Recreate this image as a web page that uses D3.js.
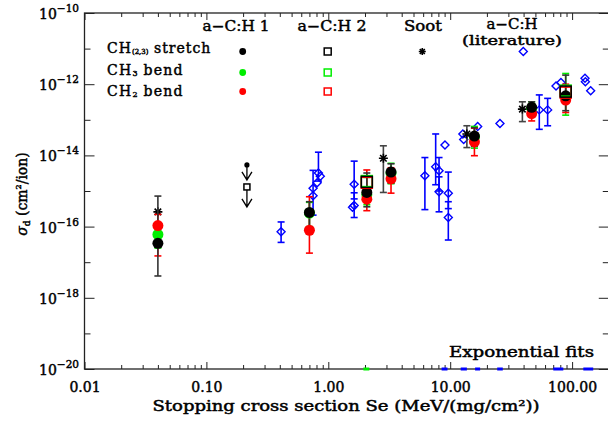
<!DOCTYPE html>
<html><head><meta charset="utf-8">
<script src="https://cdn.jsdelivr.net/npm/d3@7"></script>
<style>body{margin:0;background:#fff}svg{display:block}text{font-family:"DejaVu Serif",serif;font-weight:normal;fill:#000;stroke:#000;stroke-width:0.45px}</style>
</head><body><svg id="c" width="608" height="421"></svg>
<script>
// ---------- data ----------
const xTickValues = [0.01, 0.1, 1, 10, 100];
const xTickLabels = ["0.01", "0.10", "1.00", "10.00", "100.00"];
const yTickValues = [1e-10, 1e-12, 1e-14, 1e-16, 1e-18, 1e-20];
const yTickExponents = ["−10", "−12", "−14", "−16", "−18", "−20"];
const yMinorValues = [1e-11, 1e-13, 1e-15, 1e-17, 1e-19];

const bandNames = ["CH", "CH", "CH"];
const bandSubs = ["(2,3)", "3", "2"];
const bandSuffix = [" stretch", " bend", " bend"];
const bandColors = ["#000000", "#00ee00", "#ff0000"];
const groupNames = ["a−C:H 1", "a−C:H 2", "Soot", "a−C:H"];

// a-C:H 1 (filled circles)
const se1 = [0.040, 0.70, 2.07, 3.27, 15.8, 46.6, 88.6];
const stretch1   = [3.4e-17, 2.5e-16, 9.1e-16, 3.4e-15, 3.5e-14, 2.24e-13, 4.7e-13];
const stretch1Lo = [4.1e-18, 8.9e-17, 3.6e-16, 1.66e-15, 1.8e-14, 1.4e-13, 1.8e-13];
const stretch1Hi = [7.2e-16, 5.0e-16, 3.2e-15, 5.8e-15, 6.0e-14, 3.2e-13, 1.8e-12];
const ch3bend1   = [6.0e-17, 2.4e-16, 7.9e-16, 3.2e-15, 3.3e-14, 2.1e-13, 4.4e-13];
const ch3bend1Lo = [2.5e-17, 1.0e-16, 4.1e-16, 1.6e-15, 1.6e-14, 1.26e-13, 1.35e-13];
const ch3bend1Hi = [1.26e-16, 4.8e-16, 2.4e-15, 6.0e-15, 6.5e-14, 3.2e-13, 2.0e-12];
const ch2bend1   = [1.07e-16, 7.9e-17, 5.9e-16, 2.2e-15, 2.4e-14, 1.5e-13, 3.6e-13];
const ch2bend1Lo = [1.5e-17, 1.8e-17, 2.8e-16, 8.7e-16, 9.8e-15, 9.3e-14, 1.6e-13];
const ch2bend1Hi = [2.2e-16, 6.9e-16, 3.9e-15, 4.5e-15, 5.8e-14, 2.8e-13, 1.0e-12];

// a-C:H 2 (open squares)
const se2 = [2.07, 88.6];
const stretch2 = [1.8e-15, 6.2e-13];
const ch3bend2 = [1.9e-15, 6.6e-13];
const ch2bend2 = [1.7e-15, 5.8e-13];

// upper limits (a-C:H 1 dot, a-C:H 2 square)
const seLimit = [0.215];
const limit1 = [5.4e-15];
const limit2 = [1.07e-15];

// Soot (asterisks)
const seSoot = [0.040, 2.83, 13.7, 39.1];
const soot   = [2.6e-16, 8.3e-15, 4.0e-14, 2.0e-13];
const sootLo = [null, 9.1e-16, 1.66e-14, 8.9e-14];
const sootHi = [null, 1.86e-14, 6.8e-14, 3.2e-13];

// a-C:H literature (open diamonds)
const seLit = [0.41, 0.83, 0.81, 0.75, 0.75, 0.86, 1.63, 1.63, 1.58, 6.2, 7.6, 8.1, 8.1, 9.65, 9.65, 9.06, 12.7, 12.9, 16.8, 25.6, 53.8, 63, 73.8, 81, 127.6, 128.5, 142];
const lit   = [7.2e-17, 3.2e-15, 1.7e-15, 1.2e-15, 7.4e-16, 2.6e-15, 1.55e-15, 3.9e-16, 3.5e-16, 2.7e-15, 4.8e-15, 3.7e-15, 9.5e-16, 8.7e-16, 1.8e-16, 1.95e-14, 4.0e-14, 2.8e-14, 6.5e-14, 7.9e-14, 1.9e-13, 1.9e-13, 8.9e-13, 1.12e-12, 1.48e-12, 1.17e-12, 6.5e-13];
const litLo = [3.6e-17, 1.9e-15, null, 2.1e-16, null, null, 6.0e-16, 1.8e-16, null, 3.0e-16, 1.5e-15, 1.0e-15, 2.6e-16, 3.2e-16, 4.2e-17, null, null, null, null, null, 5.4e-14, 6.8e-14, null, null, null, null, null];
const litHi = [1.35e-16, 1.23e-14, null, 3.8e-15, null, null, 6.9e-15, 8.9e-16, null, 8.7e-15, 4.0e-14, 8.7e-15, 2.5e-15, 3.4e-15, 5.0e-16, null, null, null, null, null, 5.0e-13, 4.0e-13, null, null, null, null, null];

// exponential fits (Se ranges shown on the floor of the plot)
const fitLo = [1.94, 8.5, 12.2, 16.0, 24.3, 70.1, 123.6];
const fitHi = [2.17, 9.5, 13.7, 17.6, 27.0, 84.7, 149];
const fitColor = ["#00ee00", "#0000ff", "#0000ff", "#0000ff", "#0000ff", "#0000ff", "#0000ff"];

// ---------- drawing ----------
const svg = d3.select("#c");
const L = 84.5, T = 13, B = 369;
const x = d3.scaleLog().domain([0.01, 200]).range([L, L + Math.log10(20000) * 121.9]);
const y = d3.scaleLog().domain([1e-20, 1e-10]).range([B, T]);
const R = x.range()[1];
const axisCol = "#222";

const xMinor = [];
for (let e = -2; e <= 2; e++) for (let m = 2; m <= 9; m++) { const v = m * Math.pow(10, e); if (v < 200) xMinor.push(v); }

function styleAxis(g) { g.select(".domain").remove(); g.selectAll("line").attr("stroke", axisCol).attr("stroke-width", 1); }

svg.append("g").attr("transform", `translate(0,${B})`).call(d3.axisBottom(x).tickValues(xTickValues).tickSize(-7).tickSizeOuter(0).tickFormat((d, i) => xTickLabels[i])).call(styleAxis)
  .selectAll("text").attr("y", 13).attr("font-size", 14).attr("fill", "#000").style("font-family", "DejaVu Serif");
svg.append("g").attr("transform", `translate(0,${B})`).call(d3.axisBottom(x).tickValues(xMinor).tickSize(-4).tickSizeOuter(0).tickFormat("")).call(styleAxis);
svg.append("g").attr("transform", `translate(0,${T})`).call(d3.axisTop(x).tickValues(xTickValues).tickSize(-7).tickSizeOuter(0).tickFormat("")).call(styleAxis);
svg.append("g").attr("transform", `translate(0,${T})`).call(d3.axisTop(x).tickValues(xMinor).tickSize(-4).tickSizeOuter(0).tickFormat("")).call(styleAxis);

svg.append("g").attr("transform", `translate(${L},0)`).call(d3.axisLeft(y).tickValues(yTickValues).tickSize(-10).tickSizeOuter(0).tickFormat("")).call(styleAxis);
svg.append("g").attr("transform", `translate(${L},0)`).call(d3.axisLeft(y).tickValues(yMinorValues).tickSize(-6).tickSizeOuter(0).tickFormat("")).call(styleAxis);
svg.append("g").attr("transform", `translate(${R},0)`).call(d3.axisRight(y).tickValues(yTickValues).tickSize(-10).tickSizeOuter(0).tickFormat("")).call(styleAxis);
svg.append("g").attr("transform", `translate(${R},0)`).call(d3.axisRight(y).tickValues(yMinorValues).tickSize(-6).tickSizeOuter(0).tickFormat("")).call(styleAxis);

svg.append("rect").attr("x", L).attr("y", T).attr("width", R - L).attr("height", B - T).attr("fill", "none").attr("stroke", axisCol).attr("stroke-width", 1.3);

yTickValues.forEach((v, i) => {
  const t = svg.append("text").attr("x", 79).attr("y", y(v) + 6).attr("text-anchor", "end").attr("font-size", 14);
  t.append("tspan").text("10");
  t.append("tspan").attr("font-size", 10.5).attr("dy", -7).text(yTickExponents[i]);
});

svg.append("text").attr("x", 346).attr("y", 411).attr("text-anchor", "middle").attr("font-size", 14)
  .text("Stopping cross section Se (MeV/(mg/cm²))").attr("textLength", 387).attr("lengthAdjust", "spacingAndGlyphs");
const yt = svg.append("text").attr("transform", "translate(27,194) rotate(-90)").attr("text-anchor", "middle").attr("font-size", 14);
yt.append("tspan").style("font-style", "italic").text("σ");
yt.append("tspan").attr("font-size", 9).attr("dy", 3).text("d");
yt.append("tspan").attr("dy", -3).text(" (cm");
yt.append("tspan").attr("font-size", 8).attr("dy", -6).text("2");
yt.append("tspan").attr("dy", 6).text("/ion)");

svg.append("text").attr("x", 449).attr("y", 357).attr("font-size", 14).text("Exponential fits").attr("textLength", 145).attr("lengthAdjust", "spacingAndGlyphs");

const gFit = svg.append("g");
fitLo.forEach((lo, i) => gFit.append("line").attr("x1", x(lo)).attr("x2", x(fitHi[i])).attr("y1", y(1e-20)).attr("y2", y(1e-20)).attr("stroke", fitColor[i]).attr("stroke-width", 3));

const errCol = c => c === "#000000" ? "#333" : c;
function errbar(g, xv, lo, hi, col) {
  if (lo == null || hi == null) return;
  const px = x(xv), y1 = y(lo), y2 = y(hi);
  g.append("line").attr("x1", px).attr("x2", px).attr("y1", y1).attr("y2", y2).attr("stroke", col).attr("stroke-width", 1.6);
  [y1, y2].forEach(yy => g.append("line").attr("x1", px - 3.5).attr("x2", px + 3.5).attr("y1", yy).attr("y2", yy).attr("stroke", col).attr("stroke-width", 1.6));
}
function diamond(g, px, py, s, col) {
  g.append("path").attr("d", `M${px},${py - s}L${px + s},${py}L${px},${py + s}L${px - s},${py}Z`).attr("fill", "none").attr("stroke", col).attr("stroke-width", 1.4);
}
function square(g, px, py, s, col) {
  g.append("rect").attr("x", px - s).attr("y", py - s).attr("width", 2 * s).attr("height", 2 * s).attr("fill", "none").attr("stroke", col).attr("stroke-width", 1.5);
}
function star(g, px, py, s, col) {
  const d = s * 0.72;
  g.append("path").attr("d", `M${px},${py - s}V${py + s}M${px - s},${py}H${px + s}M${px - d},${py - d}L${px + d},${py + d}M${px - d},${py + d}L${px + d},${py - d}`).attr("stroke", col).attr("stroke-width", 1.6).attr("fill", "none");
}
function arrowDown(g, px, py, len, col) {
  g.append("path").attr("d", `M${px},${py}V${py + len}M${px - 5},${py + len - 8}L${px},${py + len}L${px + 5},${py + len - 8}`).attr("stroke", col).attr("stroke-width", 1.3).attr("fill", "none");
}

const gLit = svg.append("g");
seLit.forEach((s, i) => errbar(gLit, s, litLo[i], litHi[i], "#0000ff"));
seLit.forEach((s, i) => diamond(gLit, x(s), y(lit[i]), 4, "#0000ff"));

const gSoot = svg.append("g");
seSoot.forEach((s, i) => errbar(gSoot, s, sootLo[i], sootHi[i], "#444"));

const g1 = svg.append("g");
const set1 = [
  {v: ch3bend1, lo: ch3bend1Lo, hi: ch3bend1Hi, c: bandColors[1]},
  {v: ch2bend1, lo: ch2bend1Lo, hi: ch2bend1Hi, c: bandColors[2]},
  {v: stretch1, lo: stretch1Lo, hi: stretch1Hi, c: bandColors[0]}
];
set1.forEach(s => se1.forEach((xv, i) => errbar(g1, xv, s.lo[i], s.hi[i], errCol(s.c))));
set1.forEach(s => se1.forEach((xv, i) => g1.append("circle").attr("cx", x(xv)).attr("cy", y(s.v[i])).attr("r", 5.5).attr("fill", s.c)));

const g2 = svg.append("g");
[[ch3bend2, bandColors[1]], [ch2bend2, bandColors[2]], [stretch2, bandColors[0]]].forEach(([arr, c]) =>
  se2.forEach((xv, i) => square(g2, x(xv), y(arr[i]), 5.5, c)));

seSoot.forEach((s, i) => star(gSoot, x(s), y(soot[i]), 4.5, "#000"));

const gLim = svg.append("g");
seLimit.forEach((s, i) => {
  gLim.append("circle").attr("cx", x(s)).attr("cy", y(limit1[i])).attr("r", 2.6).attr("fill", "#000");
  arrowDown(gLim, x(s), y(limit1[i]), 15, "#000");
  square(gLim, x(s), y(limit2[i]) - 3, 3, "#000");
  arrowDown(gLim, x(s), y(limit2[i]), 17, "#000");
});

// legend
const gl = svg.append("g");
const colX = [236, 332, 423, 512];
const headY = [31, 31, 31, 29];
const headW = [67, 69, 38, 51];
groupNames.forEach((n, i) => gl.append("text").attr("x", colX[i]).attr("y", headY[i]).attr("text-anchor", "middle").attr("font-size", 14)
  .attr("textLength", headW[i]).attr("lengthAdjust", "spacingAndGlyphs").text(n));
gl.append("text").attr("x", 512).attr("y", 44.5).attr("text-anchor", "middle").attr("font-size", 13)
  .attr("textLength", 100).attr("lengthAdjust", "spacingAndGlyphs").text("(literature)");
const rowY = [53, 74.5, 96];
const markY = [51.5, 72.5, 91.5];
bandNames.forEach((n, i) => {
  const t = gl.append("text").attr("x", 107).attr("y", rowY[i]).attr("font-size", 14).attr("letter-spacing", i === 0 ? 1.0 : 1.3);
  t.append("tspan").text(n);
  t.append("tspan").attr("font-size", i === 0 ? 7 : 8).attr("dy", 1).attr("letter-spacing", 0).text(bandSubs[i]);
  t.append("tspan").attr("dy", -1).text(bandSuffix[i]);
  gl.append("circle").attr("cx", 242.7).attr("cy", markY[i]).attr("r", 3.4).attr("fill", bandColors[i]);
  square(gl, 327.7, markY[i], 3.5, bandColors[i]);
});
star(gl, 422.3, markY[0], 3.5, "#000");
diamond(gl, 523.3, markY[0], 4, "#0000ff");
</script></body></html>
